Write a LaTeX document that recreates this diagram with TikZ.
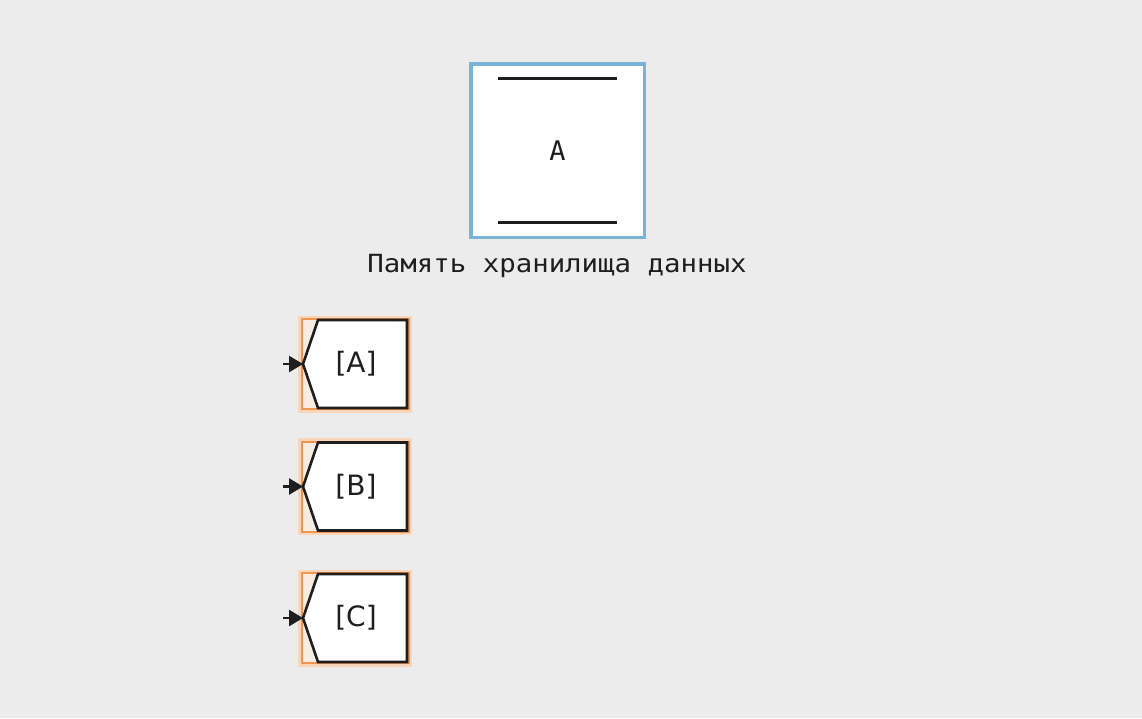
\documentclass[tikz,border=0pt]{standalone}
\usepackage{fontspec}
\setmainfont{DejaVu Sans Mono}
\newfontfamily\labelfont{DejaVu Sans Mono}[FakeStretch=1.095]
\newfontfamily\gotofont{DejaVu Sans}
\usetikzlibrary{arrows.meta}

\definecolor{bgcol}{RGB}{236,236,236}
\definecolor{storeblue}{RGB}{122,178,216}
\definecolor{glow}{RGB}{240,150,80}
\definecolor{peach}{RGB}{246,236,226}
\definecolor{ink}{RGB}{30,30,30}

\tikzset{
  store/.style = {draw = storeblue, line width = 3.5pt, fill = white, minimum width = 173.5pt,
                   minimum height = 173.5pt, inner sep = 0pt, text = ink, font = \fontsize{27}{27}\selectfont},
  bar/.style = {ink, line width = 3pt},
  gotoglow/.style = {draw = glow, line width = 2pt, fill = peach, minimum width = 107pt,
                     minimum height = 90pt, inner sep = 0pt,
                     preaction = {draw = glow!40, line width = 7pt}},
  gotoshape/.style = {draw = ink, line width = 2.6pt, fill = white, line join = miter},
  gototext/.style = {text = ink, font = \gotofont\fontsize{28}{28}\selectfont},
  sig/.style = {ink, line width = 2.5pt, -{Triangle[length = 14pt, width = 16pt]}}
}

\begin{document}
\begin{tikzpicture}[x = 1pt, y = -1pt]
	 \fill[bgcol] (0, 0) rectangle (1142, 718);
	 \useasboundingbox (0, 0) rectangle (1142, 718);
	 
	 % data store memory
	 \node[store] (mem) at (557.5, 150.5) {A};
	 \draw[bar] (498, 78) -- (617, 78);
	 \draw[bar] (498, 222) -- (617, 222);
	 \node[text = ink, font = \labelfont\fontsize{25}{25}\selectfont] (memlabel) at (557, 266) {Память хранилища данных};
	 
	 % goto blocks
	 \foreach \name/\c in {A/364, B/486.5, C/618}
	 {
	 \node[gotoglow] (goto\name) at (355, \c) {};
	 \draw[gotoshape] (318, \c - 44) -- (407, \c - 44) -- (407, \c + 44) -- (318, \c + 44) -- (303, \c) -- cycle;
	 \node[gototext] (lbl\name) at (356, \c) {[\name]};
	 \coordinate (src\name) at (283, \c);
	 \coordinate (tip\name) at (303, \c);
	 \draw[sig] (src\name) -- (tip\name);
	 }
\end{tikzpicture}
\end{document}
